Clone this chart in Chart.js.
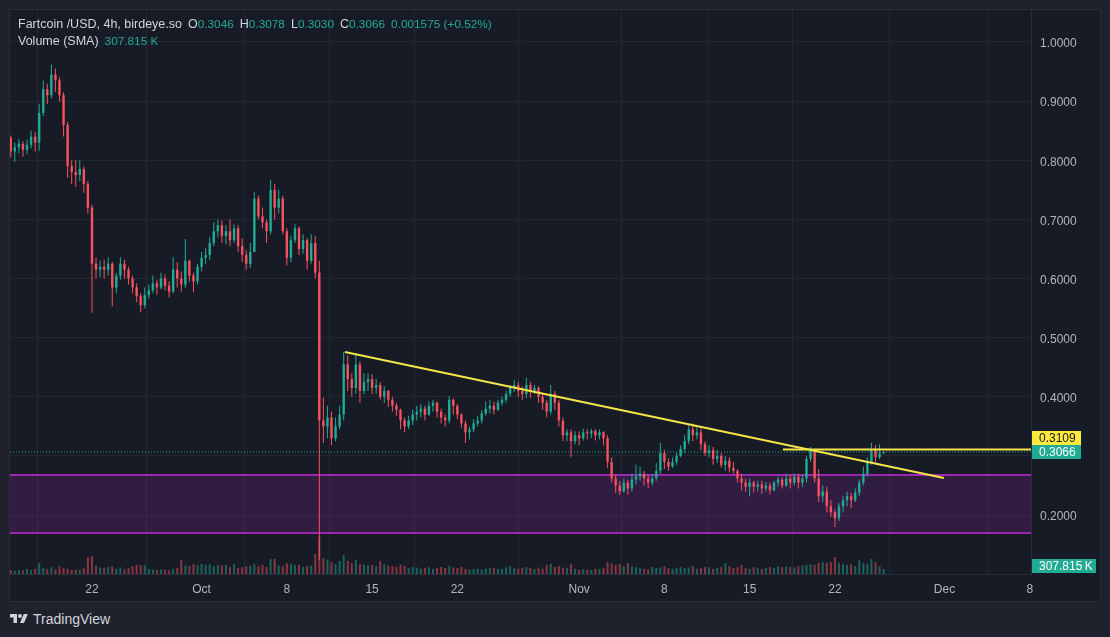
<!DOCTYPE html>
<html>
<head>
<meta charset="utf-8">
<title>Fartcoin /USD 4h</title>
<script src="https://cdn.jsdelivr.net/npm/chart.js@4.4.1/dist/chart.umd.min.js"></script>
<style>
	body {
		margin: 0;
		width: 1110px;
		height: 637px;
		overflow: hidden;
		background: #1f222d;
		font-family: 'Liberation Sans', Arial, sans-serif;
		color: #d1d4dc;
	}
	#pane {
		position: absolute;
		left: 9px;
		top: 9px;
		width: 1090px;
		height: 591px;
		border: 1px solid #2a2e39;
		background: #171b26;
	}
	/* the price axis keeps half a label of room above the plot, so lift the canvas by that much */
	#chart {
		position: absolute;
		left: 0;
		top: -6px;
	}
	#legend {
		position: absolute;
		left: 18px;
		top: 16px;
		font-size: 12.5px;
		line-height: 17px;
		white-space: nowrap;
	}
	#legend .v { color: #22ab94; font-size: 11.8px; }
	#legend .k { margin-left: 6px; }
	#brand {
		position: absolute;
		left: 10px;
		top: 611px;
		display: flex;
		align-items: center;
		font-size: 14px;
		color: #d1d4dc;
	}
	#brand svg { margin-right: 5px; }
</style>
</head>
<body>
<div id="pane"><canvas id="chart" width="1090" height="597"></canvas></div>
<div id="legend">
	<div>Fartcoin /USD, 4h, birdeye.so<span class="k">O</span><span class="v">0.3046</span><span class="k">H</span><span class="v">0.3078</span><span class="k">L</span><span class="v">0.3030</span><span class="k">C</span><span class="v">0.3066</span><span class="k v">0.001575 (+0.52%)</span></div>
	<div>Volume (SMA)<span class="k v">307.815 K</span></div>
</div>
<div id="brand">
	<svg width="18" height="14" viewBox="0 0 36 28"><path fill="#d1d4dc" d="M14 22H7V11H0V4h14v18zM28 22h-8l7.5-18h8L28 22z"/><circle fill="#d1d4dc" cx="20" cy="8" r="4"/></svg>
	<span>TradingView</span>
</div>
<script>
// time in days from Sep 22 00:00, one candle every 8h starting Sep 15 08:00
const candleStart = -20 / 3;
const candleStep = 1 / 3;
const firstOpen = 0.838;

const closes = [
	0.815, 0.822, // Sep 15
	0.828, 0.818, 0.826,
	0.84, 0.83, 0.88,
	0.92, 0.91, 0.945,
	0.935, 0.91, 0.86,
	0.79, 0.78, 0.775,
	0.785, 0.76, 0.72,
	0.625, 0.615, 0.62, // Sep 22
	0.615, 0.625, 0.585,
	0.605, 0.625, 0.615,
	0.6, 0.585, 0.57,
	0.555, 0.572, 0.58,
	0.592, 0.585, 0.6,
	0.588, 0.578, 0.615,
	0.6, 0.59, 0.63,
	0.605, 0.595, 0.62,
	0.635, 0.64, 0.66, // Oct 1
	0.68, 0.69, 0.672,
	0.68, 0.665, 0.685,
	0.655, 0.64, 0.625,
	0.645, 0.735, 0.705,
	0.695, 0.68, 0.75,
	0.72, 0.735, 0.68,
	0.635, 0.665, 0.685, // Oct 8
	0.65, 0.665, 0.63,
	0.66, 0.61, 0.36,
	0.35, 0.365, 0.33,
	0.35, 0.37, 0.455,
	0.43, 0.415, 0.455,
	0.41, 0.425, 0.43,
	0.415, 0.42, 0.4, // Oct 15
	0.41, 0.395, 0.385,
	0.378, 0.36, 0.35,
	0.36, 0.37, 0.375,
	0.38, 0.37, 0.385,
	0.39, 0.375, 0.365,
	0.36, 0.395, 0.385,
	0.37, 0.355, 0.34, // Oct 22
	0.345, 0.355, 0.36,
	0.372, 0.38, 0.385,
	0.378, 0.39, 0.395,
	0.405, 0.415, 0.42,
	0.41, 0.405, 0.42,
	0.41, 0.415, 0.4,
	0.39, 0.375, 0.405,
	0.39, 0.36, 0.335,
	0.34, 0.325, 0.335,
	0.33, 0.34, 0.338, // Nov 1
	0.342, 0.335, 0.34,
	0.33, 0.29, 0.262,
	0.25, 0.24, 0.255,
	0.245, 0.26, 0.265,
	0.27, 0.262, 0.255,
	0.262, 0.275, 0.305,
	0.29, 0.282, 0.29, // Nov 8
	0.3, 0.312, 0.325,
	0.345, 0.335, 0.34,
	0.32, 0.305, 0.31,
	0.295, 0.3, 0.285,
	0.292, 0.28, 0.275,
	0.262, 0.255, 0.248,
	0.255, 0.248, 0.252, // Nov 15
	0.245, 0.25, 0.242,
	0.255, 0.26, 0.25,
	0.262, 0.255, 0.265,
	0.255, 0.262, 0.295,
	0.31, 0.262, 0.232,
	0.24, 0.215, 0.205,
	0.195, 0.215, 0.225, // Nov 22
	0.232, 0.225, 0.238,
	0.255, 0.27, 0.29,
	0.31, 0.298, 0.3046,
	0.3066, // Nov 26
];

const highs = [
	0.842, 0.83,
	0.836, 0.832, 0.835,
	0.85, 0.848, 0.895,
	0.935, 0.93, 0.962,
	0.955, 0.94, 0.915,
	0.865, 0.8, 0.8,
	0.8, 0.79, 0.765,
	0.725, 0.635, 0.63,
	0.632, 0.636, 0.628,
	0.61, 0.636, 0.632,
	0.62, 0.605, 0.592,
	0.575, 0.585, 0.59,
	0.605, 0.598, 0.61,
	0.607, 0.595, 0.636,
	0.628, 0.612, 0.667,
	0.632, 0.61, 0.625,
	0.645, 0.652, 0.67,
	0.695, 0.7, 0.698,
	0.69, 0.7, 0.692,
	0.69, 0.668, 0.648,
	0.66, 0.746, 0.74,
	0.72, 0.7, 0.767,
	0.76, 0.75, 0.74,
	0.685, 0.672, 0.692,
	0.688, 0.675, 0.668,
	0.675, 0.672, 0.63,
	0.398, 0.385, 0.375,
	0.365, 0.385, 0.476,
	0.47, 0.44, 0.474,
	0.46, 0.44, 0.44,
	0.438, 0.43, 0.425,
	0.418, 0.412, 0.4,
	0.39, 0.38, 0.365,
	0.368, 0.378, 0.385,
	0.388, 0.385, 0.392,
	0.395, 0.392, 0.38,
	0.37, 0.402, 0.398,
	0.388, 0.372, 0.36,
	0.35, 0.362, 0.368,
	0.378, 0.392, 0.395,
	0.392, 0.395, 0.4,
	0.41, 0.42, 0.428,
	0.425, 0.418, 0.432,
	0.425, 0.42, 0.418,
	0.405, 0.395, 0.42,
	0.41, 0.395, 0.365,
	0.345, 0.345, 0.342,
	0.342, 0.346, 0.345,
	0.346, 0.345, 0.345,
	0.342, 0.335, 0.298,
	0.268, 0.258, 0.262,
	0.26, 0.27, 0.285,
	0.282, 0.275, 0.268,
	0.27, 0.288, 0.322,
	0.31, 0.296, 0.298,
	0.305, 0.318, 0.335,
	0.352, 0.355, 0.35,
	0.35, 0.325, 0.318,
	0.315, 0.31, 0.305,
	0.3, 0.298, 0.29,
	0.278, 0.27, 0.262,
	0.262, 0.258, 0.258,
	0.258, 0.256, 0.255,
	0.258, 0.265, 0.264,
	0.27, 0.268, 0.27,
	0.27, 0.268, 0.3,
	0.315, 0.312, 0.278,
	0.25, 0.248, 0.225,
	0.21, 0.22, 0.232,
	0.24, 0.238, 0.245,
	0.26, 0.282, 0.298,
	0.322, 0.318, 0.32,
	0.3078,
];

const lows = [
	0.805, 0.798,
	0.812, 0.806, 0.81,
	0.82, 0.815, 0.816,
	0.875, 0.895, 0.905,
	0.915, 0.9, 0.84,
	0.77, 0.76, 0.755,
	0.765, 0.745, 0.71,
	0.542, 0.6, 0.602,
	0.6, 0.605, 0.553,
	0.575, 0.598, 0.6,
	0.59, 0.575, 0.56,
	0.543, 0.55, 0.566,
	0.575, 0.572, 0.582,
	0.58, 0.568, 0.575,
	0.585, 0.578, 0.585,
	0.595, 0.577, 0.59,
	0.612, 0.625, 0.632,
	0.655, 0.67, 0.66,
	0.658, 0.655, 0.66,
	0.645, 0.628, 0.615,
	0.618, 0.645, 0.7,
	0.685, 0.66, 0.675,
	0.7, 0.71, 0.675,
	0.622, 0.628, 0.66,
	0.64, 0.642, 0.615,
	0.625, 0.6, 0.124,
	0.322, 0.33, 0.318,
	0.325, 0.345, 0.36,
	0.41, 0.4, 0.405,
	0.39, 0.405, 0.41,
	0.405, 0.405, 0.395,
	0.39, 0.383, 0.375,
	0.368, 0.345, 0.34,
	0.345, 0.352, 0.36,
	0.365, 0.36, 0.368,
	0.375, 0.365, 0.355,
	0.35, 0.355, 0.37,
	0.362, 0.348, 0.322,
	0.328, 0.34, 0.35,
	0.355, 0.368, 0.372,
	0.37, 0.376, 0.385,
	0.39, 0.4, 0.408,
	0.4, 0.395, 0.398,
	0.398, 0.405, 0.39,
	0.378, 0.365, 0.37,
	0.378, 0.35, 0.325,
	0.325, 0.298, 0.32,
	0.318, 0.326, 0.328,
	0.33, 0.326, 0.328,
	0.318, 0.28, 0.255,
	0.238, 0.234, 0.238,
	0.235, 0.24, 0.252,
	0.258, 0.25, 0.246,
	0.25, 0.258, 0.27,
	0.278, 0.275, 0.28,
	0.285, 0.298, 0.305,
	0.32, 0.325, 0.328,
	0.31, 0.3, 0.298,
	0.285, 0.288, 0.28,
	0.275, 0.272, 0.27,
	0.255, 0.242, 0.24,
	0.232, 0.238, 0.24,
	0.236, 0.24, 0.235,
	0.24, 0.248, 0.245,
	0.248, 0.245, 0.25,
	0.245, 0.248, 0.255,
	0.29, 0.255, 0.222,
	0.222, 0.205, 0.197,
	0.18, 0.19, 0.205,
	0.215, 0.212, 0.222,
	0.232, 0.25, 0.265,
	0.285, 0.29, 0.295,
	0.303,
];

// volume in thousands
const volumes = [
	150, 120,
	160, 140, 190,
	150, 200, 420,
	230, 190, 260,
	180, 300, 230,
	200, 150, 170,
	160, 230, 650,
	690, 310, 250,
	230, 270, 300,
	200, 250, 180,
	230, 300, 350,
	340, 350, 190,
	170, 150, 180,
	160, 140, 200,
	230, 540, 330,
	310, 380, 340,
	390, 350, 380,
	300, 350, 330,
	350, 270, 380,
	230, 260, 300,
	320, 380, 300,
	350, 270, 580,
	580, 330, 310,
	420, 380, 340,
	350, 270, 300,
	330, 770, 1425,
	600, 560, 450,
	380, 500, 730,
	500, 420, 540,
	380, 350, 330,
	350, 300, 500,
	380, 330, 300,
	270, 350, 310,
	230, 270, 250,
	210, 230, 260,
	190, 230, 270,
	230, 300, 250,
	230, 270, 200,
	160, 190, 210,
	170, 200, 230,
	230, 190, 200,
	250, 300, 230,
	200, 230, 270,
	230, 190, 250,
	200, 350, 390,
	270, 300, 250,
	230, 380, 200,
	150, 190, 160,
	150, 200, 190,
	230, 460, 400,
	350, 380, 300,
	420, 300, 270,
	230, 200, 190,
	270, 230, 250,
	300, 230, 200,
	230, 270, 230,
	250, 300, 200,
	230, 270, 250,
	190, 230, 270,
	420, 300, 230,
	270, 350, 230,
	200, 270, 230,
	190, 230, 270,
	230, 300, 270,
	300, 270, 250,
	300, 330, 350,
	380, 350, 420,
	460, 430, 460,
	655, 420, 380,
	350, 380, 300,
	540, 420, 380,
	580, 460, 300,
	190,
];

const timeTicks = [0, 9, 16, 23, 30, 40, 47, 54, 61, 70, 77];
const timeLabels = ['22', 'Oct', '8', '15', '22', 'Nov', '8', '15', '22', 'Dec', '8'];
const priceTicks = [0.2, 0.3, 0.4, 0.5, 0.6, 0.7, 0.8, 0.9, 1.0];
// 0.3000 sits under the last-price label, so it is left blank like on the original
const priceTickLabels = ['0.2000', '', '0.4000', '0.5000', '0.6000', '0.7000', '0.8000', '0.9000', '1.0000'];

// drawings: [day, price]
const trendLine = [[20.77, 0.4758], [69.95, 0.2628]];
const resistance = [[56.73, 0.3109], [77.1, 0.3109]];
const zoneTop = 0.2678;
const zoneBottom = 0.1698;
const lastPrice = 0.3066;
const volumeSma = 307.815;

const xMin = -6.73;
const xMax = 77.1;
const UP = '#22ab94';
const DOWN = '#f7525f';
const FONT = "'Liberation Sans', Arial, sans-serif";

const times = closes.map((c, i) => candleStart + i * candleStep);
const opens = [firstOpen, ...closes.slice(0, -1)];
const isUp = closes.map((c, i) => c >= opens[i]);

function flatLine(price) {
	return [{ x: xMin, y: price }, { x: xMax, y: price }];
}

const priceLabels = {
	id: 'priceLabels',
	afterDraw(chart) {
		const { ctx, chartArea } = chart;
		const y = chart.scales.y;
		const vol = chart.scales.vol;
		const x0 = chartArea.right + 1;
		const h = 14;
		const box = (cy, w, bg, fg, text) => {
			ctx.fillStyle = bg;
			ctx.fillRect(x0, Math.round(cy - h / 2), w, h);
			ctx.fillStyle = fg;
			ctx.font = `12px ${FONT}`;
			ctx.textBaseline = 'middle';
			ctx.textAlign = 'left';
			ctx.fillText(text, x0 + 7, cy + 0.5);
		};
		ctx.save();
		const lastY = y.getPixelForValue(lastPrice);
		let resY = y.getPixelForValue(resistance[0][1]);
		if (resY > lastY - h) {
			resY = lastY - h;
		}
		box(resY, 49, '#ffeb3b', '#131722', resistance[0][1].toFixed(4));
		box(lastY, 49, UP, '#ffffff', lastPrice.toFixed(4));
		box(vol.getPixelForValue(volumeSma), 64, UP, '#ffffff', volumeSma.toFixed(3) + '\u2009K');
		ctx.restore();
	},
};

new Chart(document.getElementById('chart'), {
	type: 'bar',
	data: {
		datasets: [
			{
				type: 'line',
				data: flatLine(zoneTop),
				borderColor: '#9c27b0',
				borderWidth: 2,
				backgroundColor: 'rgba(156, 39, 176, 0.2)',
				fill: '+1',
				pointRadius: 0,
				order: 6,
			},
			{
				type: 'line',
				data: flatLine(zoneBottom),
				borderColor: '#9c27b0',
				borderWidth: 2,
				pointRadius: 0,
				fill: false,
				order: 6,
			},
			{
				type: 'line',
				data: flatLine(lastPrice),
				borderColor: UP,
				borderWidth: 1,
				borderDash: [1, 2],
				pointRadius: 0,
				fill: false,
				order: 5,
			},
			{
				data: times.map((t, i) => ({ x: t, y: volumes[i] })),
				yAxisID: 'vol',
				backgroundColor: isUp.map((u) => (u ? 'rgba(34, 171, 148, 0.5)' : 'rgba(247, 82, 95, 0.5)')),
				maxBarThickness: 2,
				grouped: false,
				order: 4,
			},
			{
				data: times.map((t, i) => ({ x: t, y: [lows[i], highs[i]] })),
				backgroundColor: isUp.map((u) => (u ? UP : DOWN)),
				maxBarThickness: 1,
				grouped: false,
				order: 3,
			},
			{
				data: times.map((t, i) => ({ x: t, y: [opens[i], closes[i]] })),
				backgroundColor: isUp.map((u) => (u ? UP : DOWN)),
				maxBarThickness: 2.4,
				minBarLength: 1,
				grouped: false,
				order: 2,
			},
			{
				type: 'line',
				data: trendLine.map(([x, y]) => ({ x, y })),
				borderColor: '#f5e54a',
				borderWidth: 2,
				pointRadius: 0,
				fill: false,
				order: 1,
			},
			{
				type: 'line',
				data: resistance.map(([x, y]) => ({ x, y })),
				borderColor: '#f5e54a',
				borderWidth: 2,
				pointRadius: 0,
				fill: false,
				order: 1,
			},
		],
	},
	options: {
		responsive: false,
		animation: false,
		events: [],
		layout: { padding: 0 },
		plugins: {
			legend: { display: false },
			tooltip: { enabled: false },
		},
		scales: {
			x: {
				type: 'linear',
				min: xMin,
				max: xMax,
				offset: false,
				grid: { color: '#232733', drawTicks: false },
				border: { color: '#2a2e39' },
				ticks: {
					autoSkip: false,
					maxRotation: 0,
					padding: 8,
					color: '#b2b5be',
					font: { family: FONT, size: 12 },
					callback: (value, index) => timeLabels[index],
				},
				afterBuildTicks: (scale) => {
					scale.ticks = timeTicks.map((v) => ({ value: v }));
				},
				afterFit: (scale) => {
					scale.height = 27;
				},
			},
			y: {
				position: 'right',
				min: 0.10044,
				max: 1.0541,
				// invisible tick marks keep the labels off the axis line without padding the top
				grid: { color: '#232733', drawTicks: true, tickLength: 9, tickColor: 'rgba(0,0,0,0)' },
				border: { color: '#2a2e39' },
				ticks: {
					padding: 0,
					labelOffset: 2,
					color: '#b2b5be',
					font: { family: FONT, size: 12, lineHeight: 1 },
					callback: (value, index) => priceTickLabels[index],
				},
				afterBuildTicks: (scale) => {
					scale.ticks = priceTicks.map((v) => ({ value: v }));
				},
				afterFit: (scale) => {
					scale.width = 69;
				},
			},
			vol: {
				display: false,
				min: 0,
				max: 21714,
			},
		},
	},
	plugins: [priceLabels],
});
</script>
</body>
</html>
